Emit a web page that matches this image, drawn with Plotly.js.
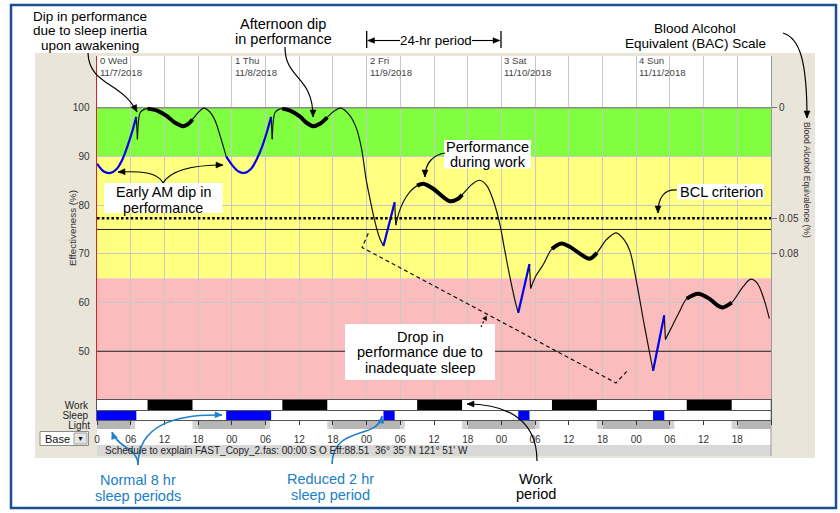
<!DOCTYPE html>
<html>
<head>
<meta charset="utf-8">
<script src="https://cdn.plot.ly/plotly-3.0.1.min.js"></script>
<style>html,body{margin:0;padding:0;background:#fff}#chart{width:840px;height:513px}</style>
</head>
<body>
<div id="chart"></div>
<script>
// ---------------- DATA ----------------
const hours = [0,1.2,2.4,3.5,4.5,5.4,6.3,7.0,7.2,7.4,7.7,8.3,9.0,10.7,12.4,13.9,15.4,16.4,17.0,18.1,19.0,20.1,21.0,21.9,23.0,
  24.2,25.2,26.3,27.4,28.4,29.4,30.3,31.0,31.2,31.4,31.7,32.3,33.0,34.4,36.1,37.3,38.5,39.7,41.0,42.1,43.4,45.0,46.2,47.1,47.9,48.6,49.5,50.3,51.0,
  53.0,53.2,53.8,54.5,55.7,57.0,58.1,59.8,61.6,62.8,64.3,65.0,66.7,68.1,69.4,70.6,71.7,72.6,73.5,74.4,75.0,
  77.0,77.2,78.2,79.4,81.0,82.7,84.1,85.9,87.7,89.0,90.7,92.4,93.9,94.9,96.0,97.5,99.0,
  101.0,101.2,102.2,103.7,105.0,107.0,109.0,110.5,111.4,113.0,115.0,116.4,117.6,118.8,119.7];
const eff = [88.5,86.9,86.6,87.4,89.3,92.0,95.2,98.1,93.5,97.4,99.0,99.6,99.8,99.4,98.3,96.9,96.2,96.8,97.6,99.1,99.9,99.1,97.4,94.3,90.0,
  88.0,86.9,86.6,87.4,89.3,92.0,95.2,98.1,93.5,97.4,99.0,99.6,99.8,99.4,98.2,96.9,96.2,96.7,98.0,99.2,99.9,98.4,95.7,91.6,85.4,81.3,76.5,73.3,71.6,
  80.6,75.9,78.6,80.6,82.7,84.0,84.4,83.4,81.7,80.8,81.3,82.1,84.2,85.1,84.0,80.8,76.2,70.7,65.3,60.5,57.9,
  67.9,62.9,65.6,67.7,71.0,72.1,71.5,70.1,69.0,70.2,72.9,74.3,72.8,70.5,64.6,55.0,46.0,
  57.4,52.4,54.7,58.1,60.8,61.8,60.8,59.4,59.0,60.0,63.2,64.8,63.9,60.5,56.7];

const sleepStart = [0, 23, 51, 75, 99];
const sleepEnd   = [7, 31, 53, 77, 101];
const workStart  = [9, 33, 57, 81, 105];
const workEnd    = [17, 41, 65, 89, 113];
const darkStart  = [-6, 18, 42, 66, 90, 114];
const darkEnd    = [6, 30, 54, 78, 102, 126];
const twilightStart = [6, 17, 30, 41, 54, 65, 78, 89, 102, 113];
const twilightEnd   = [6.8, 18, 30.8, 42, 54.8, 66, 78.8, 90, 102.8, 114];

const trendHours = [48.3, 47.2, 92.4, 94.5];
const trendEff   = [74.2, 71.3, 43.5, 46.1];

const bandLow  = [90, 65, 40];
const bandHigh = [100, 90, 65];
const topLevel = 100;
const refLevels = [75, 50];
const bclLevel = 77.3;

const effTicks = [50, 60, 70, 80, 90, 100];
const bacTickPos = [100, 77.3, 70];
const bacTickLabels = ['0', '0.05', '0.08'];

const dayHours = [0, 24, 48, 72, 96];
const dayNames = ['0 Wed', '1 Thu', '2 Fri', '3 Sat', '4 Sun'];
const dayDates = ['11/7/2018', '11/8/2018', '11/9/2018', '11/10/2018', '11/11/2018'];

const hourTickVals = [0,6,12,18,24,30,36,42,48,54,60,66,72,78,84,90,96,102,108,114];
const hourTickLabels = ['0','06','12','18','00','06','12','18','00','06','12','18','00','06','12','18','00','06','12','18'];
const rowLabels = ['Work', 'Sleep', 'Light'];
const xRange = [0, 120];

// ---------------- HELPERS ----------------
const FONT = '"Liberation Sans", Arial, sans-serif';
const L = 97, T = 56, W = 674, H = 400;
const px = x => (x - L) / W;
const py = y => (T + H - y) / H;
const pt = (x, y) => px(x) + ',' + py(y);
const BLUE_TXT = '#2080c8';
const BEIGE = '#e9e5d9';

// curve pieces split at sleep boundaries / wake-up drops
const isBreak = i => sleepStart.includes(hours[i]) || sleepEnd.includes(hours[i]) || (i > 0 && sleepEnd.includes(hours[i - 1]));
const pieces = [];
let st = 0;
for (let i = 1; i < hours.length; i++) {
  if (isBreak(i)) { pieces.push([st, i]); st = i; }
}
pieces.push([st, hours.length - 1]);
const awake = {x: [], y: []}, asleep = {x: [], y: []};
pieces.forEach(([a, b]) => {
  const mid = (hours[a] + hours[b]) / 2;
  const s = sleepStart.some((v, k) => mid >= v && mid <= sleepEnd[k]);
  const tgt = s ? asleep : awake;
  for (let i = a; i <= b; i++) { tgt.x.push(hours[i]); tgt.y.push(eff[i]); }
  tgt.x.push(null); tgt.y.push(null);
});
const work = {x: [], y: []};
workStart.forEach((ws, k) => {
  hours.forEach((h, i) => { if (h >= ws && h <= workEnd[k]) { work.x.push(h); work.y.push(eff[i]); } });
  work.x.push(null); work.y.push(null);
});

function barTrace(starts, ends, color, xa, ya) {
  return {type: 'bar', orientation: 'h', base: starts, x: starts.map((s, i) => ends[i] - s),
    y: starts.map(() => 0.5), width: starts.map(() => 1), marker: {color: color, line: {width: 0}},
    xaxis: xa, yaxis: ya, hoverinfo: 'skip'};
}
function hline(level, color, width, dash, ya) {
  return {x: xRange, y: [level, level], mode: 'lines', line: {color: color, width: width, dash: dash || 'solid'},
    xaxis: 'x', yaxis: ya || 'y', hoverinfo: 'skip'};
}

const traces = [
  hline(topLevel, '#8a8a8a', 1.5),
  ...refLevels.map(v => hline(v, '#222', 1)),
  hline(bclLevel, '#000', 2.6, '2.6px,2.2px', 'y5'),
  {x: trendHours, y: trendEff, mode: 'lines', line: {color: '#111', width: 1.2, dash: '4px,3px'}, xaxis: 'x', yaxis: 'y', hoverinfo: 'skip'},
  {x: awake.x, y: awake.y, mode: 'lines', line: {color: '#111', width: 1.2, shape: 'spline', smoothing: 0.9}, xaxis: 'x', yaxis: 'y', hoverinfo: 'skip'},
  {x: work.x, y: work.y, mode: 'lines', line: {color: '#000', width: 4, shape: 'spline', smoothing: 0.9}, xaxis: 'x', yaxis: 'y', hoverinfo: 'skip'},
  {x: asleep.x, y: asleep.y, mode: 'lines', line: {color: '#0000ee', width: 2.2, shape: 'spline', smoothing: 0.9}, xaxis: 'x', yaxis: 'y', hoverinfo: 'skip'},
  barTrace(workStart, workEnd, '#000000', 'x2', 'y2'),
  barTrace(twilightStart, twilightEnd, '#d2d2d2', 'x3', 'y3'),
  barTrace(darkStart, darkEnd, '#b6b6b6', 'x3', 'y3'),
  barTrace(sleepStart, sleepEnd, '#0000ff', 'x4', 'y4')
];

// ---------------- SHAPES ----------------
function rectPx(x0, y0, x1, y1, fill, line, layer) {
  return {type: 'rect', xref: 'paper', yref: 'paper', x0: px(x0), x1: px(x1), y0: py(y1), y1: py(y0),
    fillcolor: fill, line: line || {width: 0}, layer: layer || 'below'};
}
function linePx(x0, y0, x1, y1, color, width, dash, layer) {
  return {type: 'line', xref: 'paper', yref: 'paper', x0: px(x0), y0: py(y0), x1: px(x1), y1: py(y1),
    line: {color: color, width: width, dash: dash || 'solid'}, layer: layer || 'above'};
}
function curve(p, color, width) {
  return {type: 'path', xref: 'paper', yref: 'paper', layer: 'above',
    path: `M${pt(p[0], p[1])} C${pt(p[2], p[3])} ${pt(p[4], p[5])} ${pt(p[6], p[7])}`,
    line: {color: color, width: width}};
}
function head(fx, fy, tx, ty, color, len, hw) {
  len = len || 7; hw = hw || 3;
  const dx = tx - fx, dy = ty - fy, d = Math.hypot(dx, dy), ux = dx / d, uy = dy / d;
  const bx = tx - ux * len, by = ty - uy * len;
  return {type: 'path', xref: 'paper', yref: 'paper', layer: 'above',
    path: `M${pt(tx, ty)} L${pt(bx - uy * hw, by + ux * hw)} L${pt(bx + uy * hw, by - ux * hw)} Z`,
    fillcolor: color, line: {color: color, width: 0.5}};
}
function arrow(p, color, width) {
  return [curve(p, color, width), head(p[4], p[5], p[6], p[7], color)];
}

const shapes = [
  rectPx(35, 53, 97, 458, BEIGE),
  rectPx(771, 53, 815, 458, BEIGE),
  rectPx(97, 53, 771, 56, BEIGE),
  rectPx(97, 456, 771, 458, BEIGE),
  rectPx(97, 445, 771, 456, '#d8d8d8'),
  linePx(771, 400, 771, 456, '#999', 1, 'solid', 'below'),
  ...bandLow.map((lo, i) => ({type: 'rect', xref: 'x domain', x0: 0, x1: 1, yref: 'y', y0: lo, y1: bandHigh[i],
    fillcolor: ['#80ff40', '#ffff80', '#fabcbc'][i], line: {width: 0}, layer: 'below'})),
  // white text boxes
  rectPx(104, 183, 222.5, 213, '#fff', null, 'above'),
  rectPx(444, 140, 531, 168.5, '#fff', null, 'above'),
  rectPx(677, 184, 764, 199.5, '#fff', null, 'above'),
  rectPx(345, 324, 495, 380, '#fff', null, 'above'),
  // arrows
  ...arrow([88, 53, 89, 85, 122, 82, 137, 112], '#000', 1.2),
  ...arrow([285, 47, 285, 80, 313, 75, 313, 117], '#000', 1.2),
  ...arrow([783, 33, 800, 38, 807, 62, 807, 118], '#000', 1.2),
  ...arrow([163, 183, 158, 172, 140, 171, 118, 172], '#000', 1.2),
  ...arrow([163, 183, 172, 168, 200, 165, 223, 165], '#000', 1.2),
  ...arrow([445, 153, 433, 155, 425, 163, 425, 177], '#000', 1.2),
  ...arrow([677, 190, 664, 189, 658, 198, 658, 213], '#000', 1.2),
  linePx(481, 327, 484.5, 319.5, '#000', 1.1, '2px,2px'),
  head(484, 320.5, 486.5, 316, '#000', 4, 2.2),
  ...arrow([138, 465, 138, 448, 118, 448, 112, 432], BLUE_TXT, 1.6),
  ...arrow([138, 465, 138, 425, 175, 414, 222, 415], BLUE_TXT, 1.6),
  ...arrow([332, 464, 333, 425, 378, 440, 382, 416], BLUE_TXT, 1.6),
  ...arrow([537, 461, 537, 415, 500, 404, 467, 404], '#000', 1.2),
  // 24-hr period
  linePx(366.7, 31, 366.7, 48, '#000', 1.3),
  linePx(400, 40.5, 372, 40.5, '#000', 1.1),
  head(400, 40.5, 367.5, 40.5, '#000', 7, 2.8),
  linePx(472, 40.5, 495, 40.5, '#000', 1.1),
  head(472, 40.5, 500, 40.5, '#000', 7, 2.8),
  linePx(501, 31, 501, 48, '#000', 1.3),
  // Base dropdown
  rectPx(40, 431.5, 88.5, 445.5, '#fff', {color: '#8a8a8a', width: 1}, 'above'),
  rectPx(74, 433, 87, 444, '#e4e4e4', {color: '#a0a0a0', width: 1}, 'above'),
  // outer frame
  rectPx(11, 5, 836, 508, 'rgba(0,0,0,0)', {color: '#1f4e8c', width: 2.5}, 'above')
];

// ---------------- ANNOTATIONS ----------------
function textLines(lines, cx, y0, dy, size, color, anchor) {
  return lines.map((t, i) => ({xref: 'paper', yref: 'paper', x: px(cx), y: py(y0 + i * dy), text: t,
    showarrow: false, xanchor: anchor || 'center', yanchor: 'middle', font: {size: size, color: color || '#000', family: FONT}}));
}
const annotations = [
  ...textLines(['Dip in performance', 'due to sleep inertia', 'upon awakening'], 90, 16.5, 14.4, 13.5),
  ...textLines(['Afternoon dip', 'in performance'], 283, 24, 15.3, 14.5),
  ...textLines(['24-hr period'], 435.5, 41, 0, 13.3),
  ...textLines(['Blood Alcohol', 'Equivalent (BAC) Scale'], 695, 28.5, 15, 13.5),
  ...textLines(['Early AM dip in', 'performance'], 163.3, 192.2, 15.6, 14.3),
  ...textLines(['Performance', 'during work'], 487.7, 146.7, 15.6, 14.5),
  ...textLines(['BCL criterion'], 721, 192, 0, 14.5),
  ...textLines(['Drop in', 'performance due to', 'inadequate sleep'], 420, 336.7, 15.5, 14.5),
  ...textLines(['Normal 8 hr', 'sleep periods'], 137.7, 480, 16, 14.5, BLUE_TXT),
  ...textLines(['Reduced 2 hr', 'sleep period'], 330.5, 479.3, 16, 14.5, BLUE_TXT),
  ...textLines(['Work', 'period'], 535.7, 478.7, 15, 14.5),
  ...textLines(['Schedule to explain FAST_Copy_2.fas: 00:00 S O Eff:88.51  36\u00b0 35\' N 121\u00b0 51\' W'], 103, 450.5, 0, 10, '#222', 'left'),
  ...textLines(['Base'], 43, 438.5, 0, 11, '#111', 'left'),
  ...textLines(['\u25bc'], 80.5, 438.5, 0, 7, '#111'),
  {xref: 'paper', yref: 'paper', x: px(72), y: py(228), text: 'Effectiveness (%)', textangle: -90, showarrow: false,
    xanchor: 'center', yanchor: 'middle', font: {size: 9.8, color: '#333', family: FONT}},
  {xref: 'paper', yref: 'paper', x: px(807), y: py(180), text: 'Blood Alcohol Equivalence (%)', textangle: 90, showarrow: false,
    xanchor: 'center', yanchor: 'middle', font: {size: 8.5, color: '#333', family: FONT}},
  ...dayHours.map((h, i) => ({xref: 'x', yref: 'paper', x: h, xshift: 1, y: py(67), text: dayNames[i] + '<br>' + dayDates[i],
    showarrow: false, xanchor: 'left', yanchor: 'middle', align: 'left', font: {size: 9.6, color: '#444', family: FONT}}))
];

// ---------------- LAYOUT ----------------
const rowY = (dom, label, line) => ({domain: dom, anchor: null, range: [0, 1], tickvals: [0.5], ticktext: [label],
  showgrid: false, zeroline: false, showline: line, mirror: line, linecolor: '#555', linewidth: 1, ticks: '',
  ticklabelstandoff: 6, tickfont: {size: 10, color: '#222', family: FONT}, fixedrange: true, automargin: false});
const y2 = rowY([0.115, 0.14], rowLabels[0], true); y2.anchor = 'x2';
const y4 = rowY([0.09, 0.1135], rowLabels[1], true); y4.anchor = 'x4';
const y3 = rowY([0.0675, 0.0875], rowLabels[2], false); y3.anchor = 'x3';

const layout = {
  width: 840, height: 513, autosize: false,
  margin: {l: 97, r: 69, t: 56, b: 57, pad: 0},
  paper_bgcolor: '#ffffff', plot_bgcolor: '#ffffff',
  showlegend: false, barmode: 'overlay',
  font: {family: FONT, size: 10, color: '#333'},
  xaxis: {domain: [0, 1], anchor: 'y', range: xRange, tick0: 0, dtick: 6, showgrid: true, gridcolor: '#c8c8c8',
    gridwidth: 1, showticklabels: false, ticks: '', zeroline: false, showline: false, fixedrange: true, automargin: false},
  yaxis: {domain: [0.14, 1], anchor: 'x', range: [40, 110.6], tickvals: effTicks, ticktext: effTicks.map(String),
    showgrid: true, gridcolor: '#c8c8c8', zeroline: false, showline: true, linecolor: '#e02020', linewidth: 1.5,
    ticks: '', ticklabelstandoff: 4, tickfont: {size: 10, color: '#333', family: FONT}, fixedrange: true, automargin: false},
  yaxis5: {overlaying: 'y', anchor: 'x', side: 'right', range: [40, 110.6], tickvals: bacTickPos, ticktext: bacTickLabels,
    ticks: 'outside', ticklen: 5, tickcolor: '#777', showline: true, linecolor: '#999', linewidth: 1, showgrid: false,
    zeroline: false, tickfont: {size: 10, color: '#333', family: FONT}, fixedrange: true, automargin: false},
  xaxis2: {domain: [0, 1], anchor: 'y2', range: xRange, showgrid: false, showticklabels: false, ticks: '', zeroline: false,
    showline: true, mirror: true, linecolor: '#555', linewidth: 1, fixedrange: true, automargin: false},
  yaxis2: y2,
  xaxis3: {domain: [0, 1], anchor: 'y3', range: xRange, tickvals: hourTickVals, ticktext: hourTickLabels, ticks: '',
    showline: false, showgrid: false, zeroline: false, ticklabelstandoff: 3, tickfont: {size: 10, color: '#333', family: FONT},
    fixedrange: true, automargin: false},
  yaxis3: y3,
  xaxis4: {domain: [0, 1], anchor: 'y4', range: xRange, tick0: 0, dtick: 6, ticks: 'outside', ticklen: 4, tickcolor: '#333',
    tickwidth: 1, showticklabels: false, showgrid: false, zeroline: false, showline: true, mirror: true, linecolor: '#555',
    linewidth: 1, fixedrange: true, automargin: false},
  yaxis4: y4,
  shapes: shapes,
  annotations: annotations
};

Plotly.newPlot('chart', traces, layout, {staticPlot: true, displayModeBar: false});
</script>
</body>
</html>
